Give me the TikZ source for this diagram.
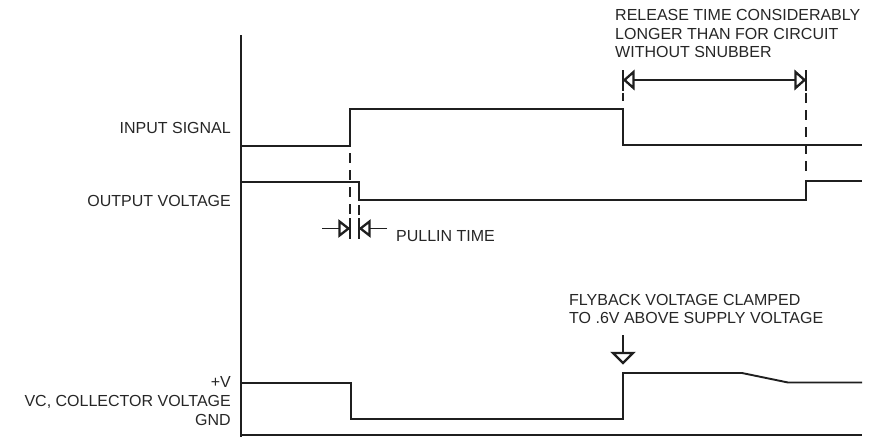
\documentclass[tikz,border=0pt]{standalone}
\usepackage{fontspec}
\setmainfont{Liberation Sans}
\usetikzlibrary{calc}
\begin{document}
\begin{tikzpicture}[x=1pt,y=-1pt,
  wave/.style={line width=1.9pt, line join=miter, draw=black!88},
  guide/.style={line width=1.7pt, dash pattern=on 10pt off 7pt, draw=black!88},
  tipline/.style={line width=1.9pt, draw=black!88},
  opentri/.style={line width=2.3pt, draw=black!88, fill=white, line join=miter},
  lbl/.style={font=\fontsize{16}{18.3}\selectfont, text=black!85, inner sep=0pt}
]
\useasboundingbox (0,0) rectangle (877,437);

% axes
\coordinate (axT) at (241,35);
\coordinate (axB) at (241,437);
\coordinate (axR) at (862,435);
\draw[wave] (axT) -- (axB);
\draw[wave] (241,435) -- (axR);

% labels
\node[lbl, anchor=base east] (inlbl) at (231,133.5) {INPUT SIGNAL};
\node[lbl, anchor=base east] (outlbl) at (231,206) {OUTPUT VOLTAGE};
\node[lbl, anchor=base east] (pvlbl) at (231,387.5) {+V};
\node[lbl, anchor=base east] (vclbl) at (231,406.5) {VC, COLLECTOR VOLTAGE};
\node[lbl, anchor=base east] (gndlbl) at (231,425) {GND};

% waveforms
\draw[wave] (241,146) -- (350,146) -- (350,109) -- (623,109) -- (623,145) -- (862,145);
\draw[wave] (241,182) -- (359,182) -- (359,200) -- (806,200) -- (806,181) -- (862,181);
\draw[wave] (241,383) -- (351,383) -- (351,419) -- (623,419) -- (623,373) -- (742,373) -- (788,382.5) -- (862,382.5);

% pullin time
\draw[guide, dash phase=0pt] (350,153) -- (350,215);
\draw[guide] (359,205) -- (359,215);
\draw[tipline] (350,218) -- (350,239);
\draw[tipline] (359,218) -- (359,239);
\coordinate (pl) at (348.5,228.5);
\coordinate (pr) at (360.5,228.5);
\draw[tipline] (322,228.5) -- ($(pl)+(-9,0)$);
\draw[opentri] (pl) -- ++(-9,-7) -- ++(0,14) -- cycle;
\draw[tipline] (387,228.5) -- ($(pr)+(9,0)$);
\draw[opentri] (pr) -- ++(9,-7) -- ++(0,14) -- cycle;
\node[lbl, anchor=base west] (pulllbl) at (396,241.5) {PULLIN TIME};

% release time
\draw[tipline] (623,70) -- (623,91);
\draw[tipline] (806,70) -- (806,91);
\draw[guide] (623,93) -- (623,101);
\draw[guide] (806,93) -- (806,176);
\coordinate (rl) at (624.5,80);
\coordinate (rr) at (804.5,80);
\draw[tipline] ($(rl)+(9,0)$) -- ($(rr)+(-9,0)$);
\draw[opentri] (rl) -- ++(9,-8) -- ++(0,16) -- cycle;
\draw[opentri] (rr) -- ++(-9,-8) -- ++(0,16) -- cycle;
\node[lbl, anchor=base west, align=left] (rellbl) at (615,57.5)
  {RELEASE TIME CONSIDERABLY\\LONGER THAN FOR CIRCUIT\\WITHOUT SNUBBER};

% flyback
\coordinate (fb) at (623,363);
\draw[tipline] (623,335) -- (623,353);
\draw[opentri] (fb) -- ++(-10,-10) -- ++(20,0) -- cycle;
\node[lbl, anchor=base west, align=left] (fblbl) at (569,323.3)
  {FLYBACK VOLTAGE CLAMPED\\TO .6V ABOVE SUPPLY VOLTAGE};
\end{tikzpicture}
\end{document}
